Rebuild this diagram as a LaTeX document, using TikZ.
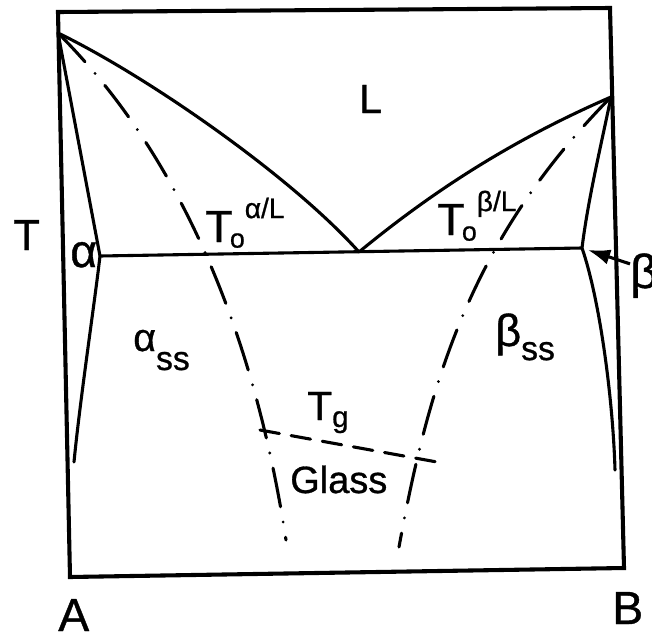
\documentclass[tikz,border=0pt]{standalone}
\usepackage{fontspec}
\setmainfont{Liberation Sans}[FakeBold=0.8]
\usetikzlibrary{arrows.meta}
\newcommand{\fsz}[1]{\fontsize{#1}{#1}\selectfont}
\newcommand{\Tnull}[1]{T\kern-2pt\raisebox{-4pt}{\fsz{19}o}\raisebox{17pt}{\fsz{20}#1}}

\begin{document}
\begin{tikzpicture}[x=0.025cm, y=-0.025cm,
  lbl/.style={inner sep=0pt, anchor=base west},
  bnd/.style={line width=2.9pt, line join=miter},
  phase/.style={line width=2.2pt, line cap=round, line join=round},
  tzero/.style={line width=2.2pt, line cap=round,
                dash pattern=on 28pt off 11pt on 0pt off 11pt},
  tglass/.style={line width=2.2pt, line cap=round,
                 dash pattern=on 14pt off 8.5pt},
]
\useasboundingbox (0,0) rectangle (652,639);
\clip (0,0) rectangle (652,639);
% frame
\coordinate (TL) at (58,12);
\coordinate (TR) at (610,8);
\coordinate (BR) at (624,568);
\coordinate (BL) at (70,577);
% melting points, eutectic
\coordinate (mA) at (58,33);
\coordinate (mB) at (611,97);
\coordinate (eu) at (359,252);
\coordinate (aS) at (100,256);
\coordinate (bS) at (582,248);
\draw[bnd] (TL) -- (TR) -- (BR) -- (BL) -- cycle;

% liquidus
\draw[phase] (mA) .. controls (145,75) and (290,175) .. (eu)
  .. controls (439,186) and (519,137) .. (mB);
% solidus and solvus
\draw[phase] (mA) -- (aS) .. controls (95,300) and (80,400) .. (74,462);
\draw[phase] (mB) .. controls (600,150) and (588,200) .. (bS)
  .. controls (600,300) and (613,400) .. (615,470);
\draw[phase] (aS) -- (bS);
% T0 curves and Tg
\draw[tzero] (mA) .. controls (198,173) and (260,370) .. (286,540);
\draw[tzero] (mB) .. controls (473,237) and (430,377) .. (399,547);
\draw[tglass] (260,430) -- (437,462);

% labels
\node[lbl, font=\fsz{31}] (axT) at (13,250) {T};
\node[lbl, font=\fsz{33}] (alpha) at (70,267) {α};
\node[lbl, font=\fsz{29}] (liq) at (359,113) {L};
\node[lbl, font=\fsz{32}] (toA) at (205,242) {\Tnull{α/L}};
\node[lbl, font=\fsz{32}] (toB) at (437,235) {\Tnull{β/L}};
\node[lbl, font=\fsz{34}] (beta) at (630,288) {β};
\node[lbl, font=\fsz{28}] (ass) at (133,351) {α\raisebox{-13.5pt}{\fsz{24}ss}};
\node[lbl, font=\fsz{32}] (bss) at (495,346) {β\raisebox{-10pt}{\fsz{24}ss}};
\node[lbl, font=\fsz{29}] (tg) at (307,420) {T\raisebox{-5pt}{\fsz{21}g}};
\node[lbl, font=\fsz{27}] (glass) at (290,493) {Glass};
\node[lbl, font=\fsz{33}] (cA) at (58,631) {A};
\node[lbl, font=\fsz{33}] (cB) at (612,624) {B};
\draw[line width=2.2pt, -{Latex[length=16pt,width=11pt]}, shorten >=0.15cm]
  (beta.140) -- (bS);
\end{tikzpicture}
\end{document}
